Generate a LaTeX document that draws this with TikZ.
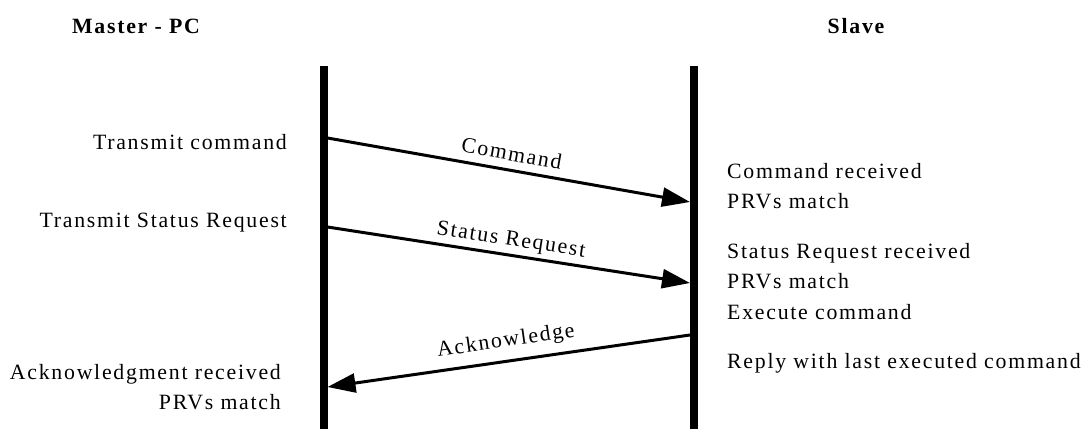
\documentclass[tikz,border=0pt]{standalone}
\usepackage{fontspec}
\setmainfont{Liberation Serif}[LetterSpace=8]
\usetikzlibrary{arrows.meta}
\newcommand\diagfont{\fontsize{21.8}{26}\selectfont}
\begin{document}
\begin{tikzpicture}[x=1pt,y=-1pt,
  lifeline/.style={line width=8pt},
  msg/.style={line width=3pt,-{Triangle[length=28pt,width=19pt]}},
  msglabel/.style={midway,sloped,above=#1,inner sep=0pt,text depth=0pt,
    font=\diagfont},
  msglabel/.default=8pt,
  note/.style={inner sep=0pt,font=\diagfont},
  head/.style={inner sep=0pt,font=\diagfont\bfseries}]
\useasboundingbox (0,0) rectangle (1084,429);

% participants
\node[head,anchor=base] (master) at (136,33) {Master - PC};
\node[head,anchor=base] (slave) at (856,33) {Slave};

% lifelines
\coordinate (mtop) at (323.5,66);
\coordinate (mbot) at (323.5,429);
\coordinate (stop) at (694,66);
\coordinate (sbot) at (694,429);
\draw[lifeline] (mtop) -- (mbot);
\draw[lifeline] (stop) -- (sbot);

% message end points on the lifeline edges
\coordinate (c1) at (327.5,138);
\coordinate (c2) at (690,202);
\coordinate (s1) at (327.5,227);
\coordinate (s2) at (690,283);
\coordinate (a1) at (690,335);
\coordinate (a2) at (327.5,387);

\draw[msg] (c1) -- (c2) node[msglabel] (lcmd) {Command};
\draw[msg] (s1) -- (s2) node[msglabel] (lsr) {Status Request};
\draw[msg] (a1) -- (a2) node[msglabel=13pt] (lack) {Acknowledge};

% master side notes
\node[note,anchor=base east] (m1) at (287,149) {Transmit command};
\node[note,anchor=base east] (m2) at (287,227) {Transmit Status Request};
\node[note,anchor=base east] (m3) at (281,379) {Acknowledgment received};
\node[note,anchor=base east] (m4) at (281,409) {PRVs match};

% slave side notes
\node[note,anchor=base west] (r1) at (727,178) {Command received};
\node[note,anchor=base west] (r2) at (727,208) {PRVs match};
\node[note,anchor=base west] (r3) at (727,258) {Status Request received};
\node[note,anchor=base west] (r4) at (727,288) {PRVs match};
\node[note,anchor=base west] (r5) at (727,319) {Execute command};
\node[note,anchor=base west] (r6) at (727,368) {Reply with last executed command};
\end{tikzpicture}
\end{document}
